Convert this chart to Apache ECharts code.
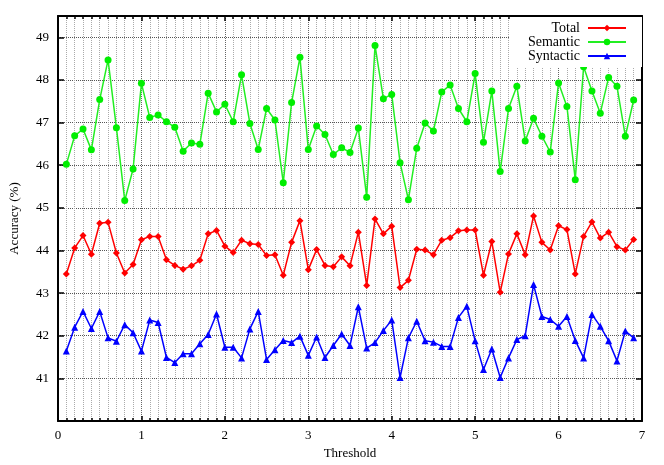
<!DOCTYPE html>
<html>
<head>
<meta charset="utf-8">
<script src="https://cdn.jsdelivr.net/npm/echarts@6/dist/echarts.min.js"></script>
<style>
  html, body { margin: 0; padding: 0; background: #fff; }
  #chart { width: 664px; height: 465px; }
</style>
</head>
<body>
<div id="chart"></div>
<script>
const thresholds = [
  0.1, 0.2, 0.3, 0.4, 0.5, 0.6, 0.7, 0.8, 0.9, 1.0,
  1.1, 1.2, 1.3, 1.4, 1.5, 1.6, 1.7, 1.8, 1.9, 2.0,
  2.1, 2.2, 2.3, 2.4, 2.5, 2.6, 2.7, 2.8, 2.9, 3.0,
  3.1, 3.2, 3.3, 3.4, 3.5, 3.6, 3.7, 3.8, 3.9, 4.0,
  4.1, 4.2, 4.3, 4.4, 4.5, 4.6, 4.7, 4.8, 4.9, 5.0,
  5.1, 5.2, 5.3, 5.4, 5.5, 5.6, 5.7, 5.8, 5.9, 6.0,
  6.1, 6.2, 6.3, 6.4, 6.5, 6.6, 6.7, 6.8, 6.9
];
const total = [
  43.45, 44.06, 44.35, 43.91, 44.64, 44.66, 43.94, 43.47, 43.67, 44.25,
  44.33, 44.33, 43.78, 43.65, 43.56, 43.64, 43.77, 44.39, 44.47, 44.10,
  43.95, 44.24, 44.16, 44.14, 43.88, 43.90, 43.42, 44.19, 44.70, 43.55,
  44.02, 43.65, 43.62, 43.85, 43.64, 44.43, 43.18, 44.74, 44.39, 44.57,
  43.13, 43.30, 44.03, 44.01, 43.90, 44.24, 44.30, 44.46, 44.48, 44.48,
  43.42, 44.21, 43.02, 43.92, 44.39, 43.90, 44.81, 44.19, 44.01, 44.58,
  44.49, 43.45, 44.33, 44.67, 44.29, 44.43, 44.09, 44.01, 44.26
];
const semantic = [
  46.02, 46.69, 46.85, 46.36, 47.54, 48.47, 46.88, 45.17, 45.91, 47.92,
  47.12, 47.18, 47.02, 46.89, 46.33, 46.52, 46.49, 47.69, 47.25, 47.43,
  47.02, 48.12, 46.98, 46.37, 47.33, 47.06, 45.59, 47.47, 48.53, 46.37,
  46.92, 46.72, 46.25, 46.41, 46.30, 46.87, 45.25, 48.81, 47.56, 47.66,
  46.06, 45.19, 46.40, 46.99, 46.80, 47.72, 47.88, 47.33, 47.02, 48.15,
  46.54, 47.74, 45.85, 47.33, 47.85, 46.57, 47.10, 46.68, 46.31, 47.93,
  47.38, 45.66, 48.31, 47.74, 47.22, 48.06, 47.85, 46.68, 47.53
];
const syntactic = [
  41.64, 42.20, 42.57, 42.17, 42.57, 41.95, 41.87, 42.26, 42.07, 41.64,
  42.37, 42.31, 41.49, 41.37, 41.58, 41.58, 41.81, 42.03, 42.51, 41.73,
  41.73, 41.48, 42.16, 42.57, 41.44, 41.67, 41.89, 41.84, 41.99, 41.54,
  41.97, 41.49, 41.77, 42.04, 41.77, 42.68, 41.71, 41.84, 42.12, 42.37,
  41.02, 41.95, 42.34, 41.88, 41.85, 41.75, 41.75, 42.43, 42.69, 41.88,
  41.21, 41.69, 41.02, 41.48, 41.91, 42.00, 43.20, 42.45, 42.38, 42.22,
  42.45, 41.89, 41.48, 42.50, 42.22, 41.88, 41.41, 42.11, 41.95
];
const xTicks = ['0', '1', '2', '3', '4', '5', '6', '7'];
const yTicks = ['41', '42', '43', '44', '45', '46', '47', '48', '49'];

const font = 'Liberation Serif';
const pairs = ys => thresholds.map((x, i) => [x, ys[i]]);

const chart = echarts.init(document.getElementById('chart'));
const axisLine = { show: true, onZero: false, lineStyle: { color: '#000', width: 2 } };
const option = {
  animation: false,
  backgroundColor: '#fff',
  textStyle: { fontFamily: font },
  grid: { left: 56, right: 22, top: 16, bottom: 42 },
  legend: {
    orient: 'vertical',
    right: 22,
    top: 17,
    align: 'right',
    itemWidth: 38,
    itemHeight: 8,
    itemGap: 0,
    padding: [4, 15, 4, 18],
    backgroundColor: '#fff',
    formatter: name => '{t|' + name + '}',
    textStyle: {
      fontFamily: font, fontSize: 13, color: '#000',
      rich: { t: { fontFamily: font, fontSize: 14, color: '#000', padding: [0, 3, 0, 0], lineHeight: 13 } }
    },
    data: ['Total', 'Semantic', 'Syntactic']
  },
  xAxis: [
    {
      type: 'value', min: 0, max: 7, interval: 1,
      name: 'Threshold', nameLocation: 'middle', nameGap: 26,
      nameTextStyle: { fontFamily: font, fontSize: 13, color: '#000' },
      axisLine: axisLine,
      axisTick: { show: true, inside: true, length: 5, lineStyle: { color: '#000', width: 1.5 } },
      minorTick: { show: true, splitNumber: 10, length: 3, lineStyle: { color: '#000', width: 1.5 } },
      axisLabel: {
        margin: 8, fontFamily: font, fontSize: 13, color: '#000',
        formatter: v => xTicks.includes(String(v)) ? String(v) : ''
      },
      splitLine: { show: true, lineStyle: { type: 'dotted', color: '#666', width: 1 } },
      minorSplitLine: { show: true, lineStyle: { type: 'dotted', color: '#aaa', width: 1 } }
    },
    {
      type: 'value', min: 0, max: 7, interval: 1, position: 'top',
      axisLine: axisLine,
      axisTick: { show: true, inside: true, length: 5, lineStyle: { color: '#000', width: 1.5 } },
      minorTick: { show: true, splitNumber: 10, length: 3, lineStyle: { color: '#000', width: 1.5 } },
      axisLabel: { show: false },
      splitLine: { show: false }
    }
  ],
  yAxis: [
    {
      type: 'value', min: 40, max: 49.5, interval: 1,
      name: 'Accuracy (%)', nameLocation: 'middle', nameGap: 37,
      nameTextStyle: { fontFamily: font, fontSize: 13, color: '#000' },
      axisLine: axisLine,
      axisTick: { show: true, inside: true, length: 6, lineStyle: { color: '#000', width: 1.5 } },
      axisLabel: {
        margin: 9, fontFamily: font, fontSize: 13, color: '#000',
        formatter: v => yTicks.includes(String(v)) ? String(v) : ''
      },
      splitLine: { show: true, lineStyle: { type: 'dotted', color: '#555', width: 1 } }
    },
    {
      type: 'value', min: 40, max: 49.5, interval: 1, position: 'right',
      axisLine: axisLine,
      axisTick: { show: true, inside: true, length: 6, lineStyle: { color: '#000', width: 1.5 } },
      axisLabel: { show: false },
      splitLine: { show: false }
    }
  ],
  series: [
    {
      name: 'Total', type: 'line', data: pairs(total),
      symbol: 'diamond', symbolSize: 7,
      itemStyle: { color: '#ff0000' },
      lineStyle: { color: '#ff0000', width: 1.5 }
    },
    {
      name: 'Semantic', type: 'line', data: pairs(semantic),
      symbol: 'circle', symbolSize: 7,
      itemStyle: { color: '#00ee00' },
      lineStyle: { color: '#22ee22', width: 1.5 }
    },
    {
      name: 'Syntactic', type: 'line', data: pairs(syntactic),
      symbol: 'triangle', symbolSize: 7,
      itemStyle: { color: '#0000ff' },
      lineStyle: { color: '#0000ff', width: 1.5 }
    }
  ]
};
chart.setOption(option);
</script>
</body>
</html>
